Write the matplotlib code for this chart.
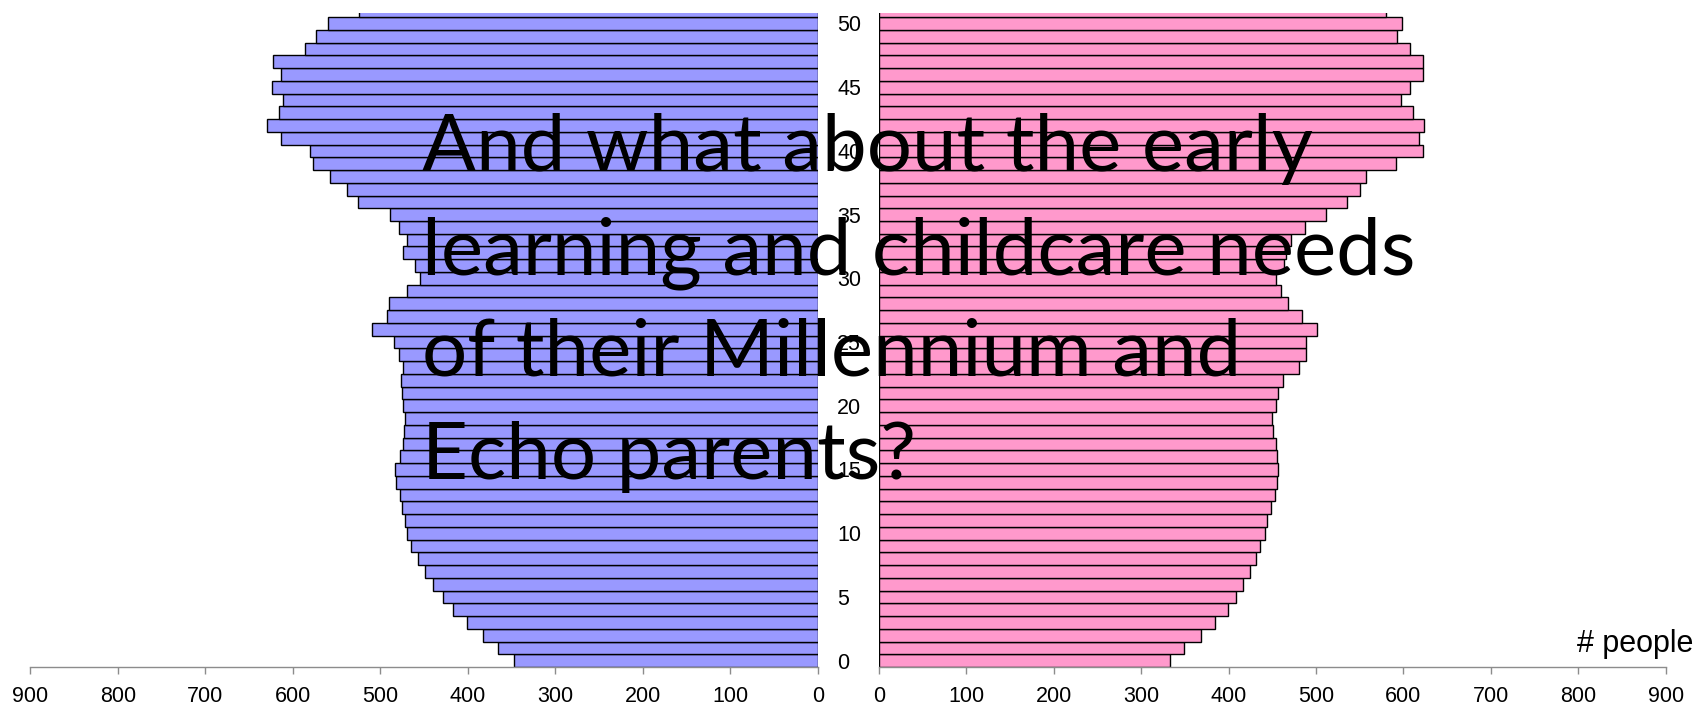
"""
Population pyramid with a slide question written over it
"""
import matplotlib
matplotlib.use('Agg')
import matplotlib.pyplot as plt

# single years of age, the top row is cut off by the frame
ages = list(range(52))
male = [347, 365, 383, 401, 417, 428, 440, 449, 457, 465,
        470, 472, 475, 478, 482, 483, 478, 474, 473, 472,
        474, 475, 476, 474, 479, 484, 509, 492, 490, 469,
        455, 460, 474, 469, 479, 489, 525, 538, 558, 577,
        580, 613, 630, 616, 611, 624, 614, 623, 586, 573,
        560, 524]
female = [333, 349, 368, 385, 399, 409, 417, 425, 431, 436,
          442, 444, 449, 453, 455, 456, 455, 454, 451, 450,
          454, 457, 462, 481, 489, 488, 501, 484, 468, 460,
          454, 463, 466, 471, 487, 512, 536, 550, 557, 591,
          622, 618, 623, 611, 597, 608, 622, 622, 607, 593,
          598, 580]
age_ticks = list(range(0, 51, 5))
people_ticks = list(range(0, 901, 100))
title_lines = ["And what about the early",
               "learning and childcare needs",
               "of their Millennium and",
               "Echo parents?"]

plt.rcParams['font.family'] = ['Liberation Sans', 'DejaVu Sans']
axis_grey = '#8c8c8c'

fig = plt.figure(figsize=(16.96, 7.18), dpi=100)
ax_l = fig.add_axes([0.01787, 0.07103, 0.46427, 0.91045])
ax_r = fig.add_axes([0.51827, 0.07103, 0.46381, 0.91045])

ax_l.barh(ages, male, height=1.0, color='#9999ff', edgecolor='black', linewidth=1.0)
ax_r.barh(ages, female, height=1.0, color='#ff99cc', edgecolor='black', linewidth=1.0)

for ax in (ax_l, ax_r):
    ax.set_ylim(-0.5, 50.8)
    ax.set_xticks(people_ticks)
    ax.set_xticklabels([str(t) for t in people_ticks])
    for side in ('top', 'left', 'right'):
        ax.spines[side].set_visible(False)
    ax.spines['bottom'].set_color(axis_grey)
    ax.spines['bottom'].set_linewidth(1.0)
    ax.tick_params(axis='x', direction='out', length=5, width=1.0,
                   color=axis_grey, labelsize=15.5, pad=9)
    ax.set_facecolor('none')

ax_l.set_xlim(900, 0)
ax_r.set_xlim(0, 900)
ax_l.set_yticks([])

# age labels sit in the gap between the two halves
ax_r.set_yticks(age_ticks)
ax_r.set_yticklabels([str(a) for a in age_ticks])
ax_r.tick_params(axis='y', length=0, labelsize=15.5, pad=30)
for lab in ax_r.get_yticklabels():
    lab.set_horizontalalignment('left')

fig.text(1693 / 1696, 1 - 652 / 718, '# people', ha='right', va='baseline',
         fontsize=22)

baselines = [171, 274, 376, 479]
for line, b in zip(title_lines, baselines):
    fig.text(422 / 1696, 1 - b / 718, line, ha='left', va='baseline',
             fontsize=57.5, family=['Lato', 'DejaVu Sans'], color='black',
             zorder=10)

fig.savefig('out.png', dpi=100)
